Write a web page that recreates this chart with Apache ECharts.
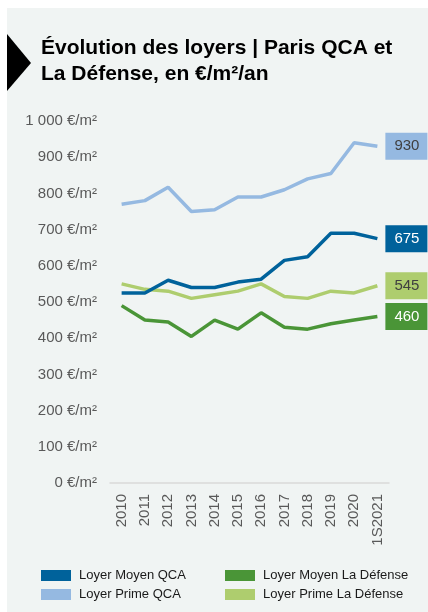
<!DOCTYPE html>
<html>
<head>
<meta charset="utf-8">
<script src="https://cdn.jsdelivr.net/npm/echarts@6/dist/echarts.min.js"></script>
<style>
  html, body { margin: 0; padding: 0; background: #ffffff; }
  #chart { width: 428px; height: 612px; }
</style>
</head>
<body>
<div id="chart"></div>
<script>
// données
const years = ['2010', '2011', '2012', '2013', '2014', '2015', '2016', '2017', '2018', '2019', '2020', '1S2021']
const moyenQCA = [525, 525, 560, 540, 540, 555, 563, 615, 625, 690, 690, 675]
const primeQCA = [770, 780, 817, 750, 755, 790, 790, 810, 840, 855, 940, 930]
const moyenLD = [490, 450, 445, 405, 450, 425, 470, 430, 425, 440, 450, 460]
const primeLD = [550, 535, 530, 510, 520, 530, 550, 515, 510, 530, 525, 545]

const font = 'Liberation Sans, Arial, sans-serif'

const chart = echarts.init(document.getElementById('chart'))

const makeSeries = (name, data, color, textColor) => ({
  name: name,
  type: 'line',
  data: data,
  color: color,
  symbol: 'none',
  lineStyle: { width: 3.5, color: color },
  endLabel: {
    show: true,
    distance: 8,
    formatter: '{c}',
    fontFamily: font,
    fontSize: 15,
    lineHeight: 16,
    color: textColor,
    backgroundColor: color,
    padding: [6, 8, 5, 9],
  },
  z: 3,
})

const legendText = { fontFamily: font, fontSize: 13, lineHeight: 13, color: '#1a1a1a', padding: [0, 0, 0, 3] }

const option = {
  backgroundColor: '#ffffff',
  animation: false,
  textStyle: { fontFamily: font },
  graphic: [
    {
      type: 'rect',
      shape: { x: 7, y: 8, width: 421, height: 604 },
      style: { fill: '#f0f4f3' },
      z: -10,
    },
    {
      type: 'polygon',
      shape: { points: [[7, 34], [7, 91], [31, 63]] },
      style: { fill: '#000000' },
    },
  ],
  title: {
    text: 'Évolution des loyers | Paris QCA et\nLa Défense, en €/m²/an',
    left: 41,
    top: 35,
    padding: 0,
    textStyle: {
      fontFamily: font,
      fontSize: 21,
      fontWeight: 'bold',
      lineHeight: 26,
      color: '#000000',
    },
  },
  legend: [
    {
      orient: 'vertical',
      left: 41,
      top: 569,
      padding: 0,
      icon: 'rect',
      itemWidth: 30,
      itemHeight: 11,
      itemGap: 6,
      data: ['Loyer Moyen QCA', 'Loyer Prime QCA'],
      textStyle: legendText,
    },
    {
      orient: 'vertical',
      left: 225,
      top: 569,
      padding: 0,
      icon: 'rect',
      itemWidth: 30,
      itemHeight: 11,
      itemGap: 6,
      data: ['Loyer Moyen La Défense', 'Loyer Prime La Défense'],
      textStyle: legendText,
    },
  ],
  grid: {
    left: 110,
    top: 121,
    width: 279,
    height: 362,
    containLabel: false,
  },
  xAxis: {
    type: 'category',
    data: years,
    boundaryGap: true,
    axisLine: { show: true, lineStyle: { color: '#d9d9d9', width: 1.5 } },
    axisTick: { show: false },
    axisLabel: {
      rotate: 90,
      margin: 11,
      fontFamily: font,
      fontSize: 15,
      color: '#595959',
      interval: 0,
    },
  },
  yAxis: {
    type: 'value',
    min: 0,
    max: 1000,
    interval: 100,
    axisLine: { show: false },
    axisTick: { show: false },
    splitLine: { show: false },
    axisLabel: {
      margin: 13,
      fontFamily: font,
      fontSize: 15,
      color: '#595959',
      formatter: (v) => String(v).replace(/\B(?=(\d{3})+(?!\d))/g, ' ') + ' €/m²',
    },
  },
  series: [
    makeSeries('Loyer Prime QCA', primeQCA, '#95b9e1', '#404040'),
    makeSeries('Loyer Prime La Défense', primeLD, '#aecd6e', '#404040'),
    makeSeries('Loyer Moyen La Défense', moyenLD, '#4a9537', '#ffffff'),
    makeSeries('Loyer Moyen QCA', moyenQCA, '#00629b', '#ffffff'),
  ],
}

chart.setOption(option)
</script>
</body>
</html>
